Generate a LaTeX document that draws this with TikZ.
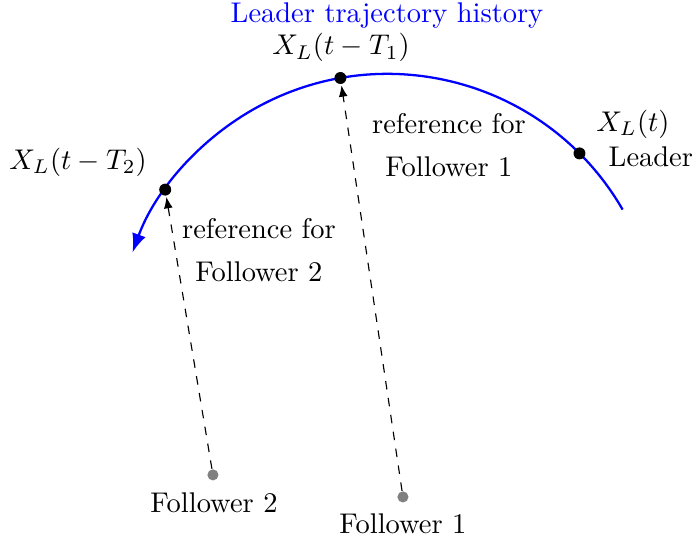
\documentclass[tikz,border=0pt]{standalone}
\usepackage{amsmath,amssymb}
\usetikzlibrary{arrows.meta, positioning, calc}

\begin{document}
\begin{tikzpicture}[
        dot/.style={circle, fill=black, inner sep=0pt, minimum size=4.2pt},
        fdot/.style={circle, fill=gray, inner sep=0pt, minimum size=3.9pt},
        traj/.style={thick, blue, -{Latex}},
        refline/.style={dashed, thin, -{Latex[length=1.4mm, width=1.1mm]}, shorten >=0.3pt},
    ]
        \useasboundingbox (0,0) rectangle (8.565, 6.651);

        % Leader trajectory (arc)
        \coordinate (c) at (4.783, 2.389);
        \draw[traj] ($(c)+(30:3.35)$) arc[start angle=30, end angle=160, radius=3.35];
        \node[text=blue, inner sep=0.5pt] (title) at (4.776, 6.455) {Leader trajectory history};

        % Points on the history
        \node[dot] (lead) at ($(c)+(45:3.35)$) {};
        \node[dot] (p1) at ($(c)+(100:3.35)$) {};
        \node[dot] (p2) at ($(c)+(145:3.35)$) {};
        \node (xl) at (7.811, 5.121) {$X_L(t)$};
        \node (leadtxt) at (8.033, 4.714) {Leader};
        \node[inner sep=0.5pt] (xl1) at (4.208, 6.060) {$X_L(t-T_1)$};
        \node (xl2) at (0.963, 4.652) {$X_L(t-T_2)$};

        % Followers
        \node[fdot] (f1) at (4.973, 0.518) {};
        \node[fdot] (f2) at (2.628, 0.790) {};
        \node (f1txt) at (4.973, 0.185) {Follower 1};
        \node (f2txt) at (2.641, 0.444) {Follower 2};

        % References
        \draw[refline] (f1) -- (p1);
        \draw[refline] (f2) -- (p2);
        \node[align=center] (ref1) at (5.541, 4.862) {reference for\\[3pt] Follower 1};
        \node[align=center] (ref2) at (3.196, 3.566) {reference for\\[3pt] Follower 2};
    \end{tikzpicture}
\end{document}
